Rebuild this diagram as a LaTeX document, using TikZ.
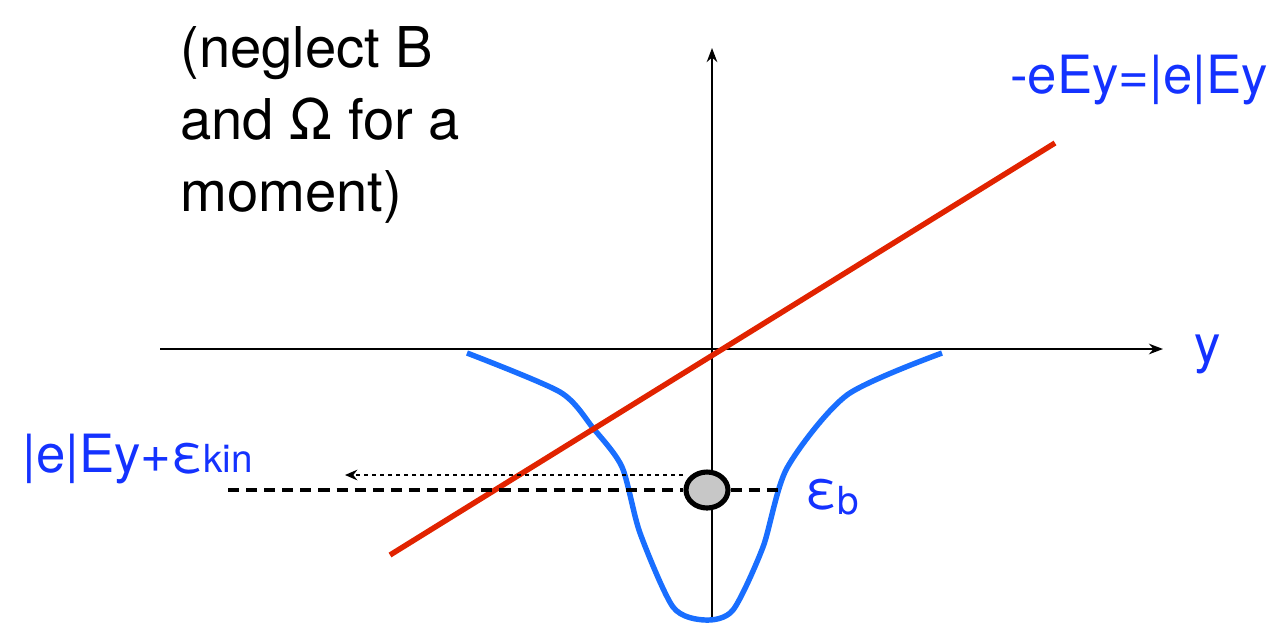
\documentclass[tikz,border=0pt]{standalone}
\usepackage{fontspec}
\setmainfont{TeX Gyre Heros}
\usetikzlibrary{arrows.meta,shapes.geometric}
\definecolor{lblblue}{RGB}{20,50,255}
\definecolor{wellblue}{RGB}{25,110,255}
\definecolor{fieldred}{RGB}{225,35,0}
\begin{document}
\begin{tikzpicture}[x=0.02cm,y=-0.02cm,
  axis/.style={line width=1.3pt,-{Stealth[length=8pt,width=6pt]}},
  lbl/.style={text=lblblue,inner sep=0pt,font=\fontsize{30}{36}\selectfont},
  ball/.style={ellipse,draw,line width=2.9pt,fill=black!22,minimum width=0.84cm,minimum height=0.72cm,inner sep=0pt}]
  \useasboundingbox (0,0) rectangle (1273,633);

  % axes
  \coordinate (xL) at (160,349);
  \coordinate (xR) at (1163,349);
  \coordinate (yB) at (712,622);
  \coordinate (yT) at (712,48);
  \draw[axis] (xL) -- (xR) node[lbl,anchor=base west,xshift=0.6cm,yshift=-0.26cm] (ylab) {y};
  \draw[axis] (yB) -- (yT);

  % potential well
  \draw[wellblue,line width=3.1pt,line join=round] plot[smooth,tension=0.45] coordinates
    {(467,353) (560,392) (593,428) (622,467) (640,533) (673,607) (705,620)
     (733,610) (763,547) (787,468) (847,395) (942,353)};

  % field line
  \coordinate (F1) at (390,555);
  \coordinate (F2) at (1055,143);
  \draw[fieldred,line width=3.1pt] (F1) -- (F2);

  % bound level and particle
  \node[ball] (e) at (707,490) {};
  \coordinate (lvlL) at (228,490);
  \coordinate (lvlR) at (780,490);
  \draw[line width=2.7pt,dash pattern=on 6.3pt off 4pt] (lvlL) -- (e.west);
  \draw[line width=2.7pt,dash pattern=on 6.3pt off 4pt] (e.east) -- (lvlR);
  \coordinate (tA) at (683,475);
  \coordinate (tB) at (345,475);
  \draw[line width=1.3pt,dash pattern=on 2.3pt off 2.3pt,-{Stealth[length=7pt,width=6pt]}] (tA) -- (tB);

  % labels
  \node[lbl,anchor=base west] (eb) at (805,508) {ε\raisebox{-0.12em}{\fontsize{22}{22}\selectfont b}};
  \node[lbl,anchor=base west] (ekin) at (22,472) {|e|Ey+ε{\fontsize{22}{22}\selectfont kin}};
  \node[lbl,anchor=base east] (pot) at (1268,93) {-eEy=|e|Ey};
  \node[anchor=north west,inner sep=0pt,align=left,font=\fontsize{32}{41}\selectfont] (note) at (180,26)
    {(neglect B\\and Ω for a\\moment)};
\end{tikzpicture}
\end{document}
